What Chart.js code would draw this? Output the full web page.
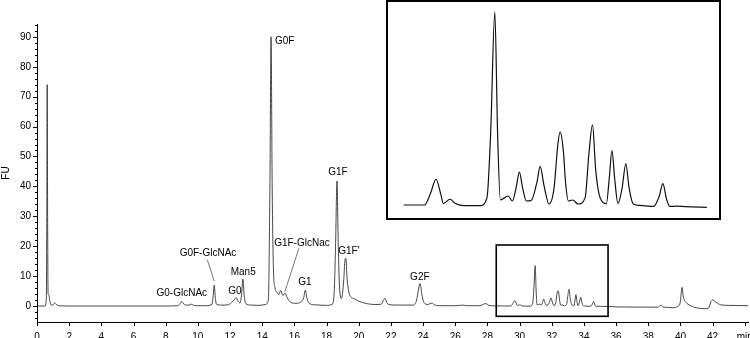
<!DOCTYPE html>
<html><head><meta charset="utf-8">
<script src="https://cdn.jsdelivr.net/npm/chart.js@4.4.0/dist/chart.umd.min.js"></script>
<style>
html,body{margin:0;padding:0;background:#fff;}
#wrap{position:relative;width:750px;height:338px;overflow:hidden;background:#fff;}
#main{position:absolute;left:0;top:0;}
#insetBox{position:absolute;left:386px;top:0;width:335px;height:220px;box-sizing:border-box;border:2px solid #000;background:#fff;}
#inset{display:block;}
</style></head><body>
<div id="wrap"><canvas id="main" width="750" height="338"></canvas>
<div id="insetBox"><canvas id="inset" width="331" height="216"></canvas></div></div>
<script>
// Retention time (min) and fluorescence (FU)
const times = [0,0.5,0.58,0.61,0.635,0.66,0.69,0.74,0.8,0.9,1.0,1.1,1.2,1.4,2.0,4.0,6.0,8.0,
 8.75,8.9,9.0,9.1,9.25,9.45,9.6,9.75,10.0,10.5,10.88,10.96,11.02,11.08,11.16,11.5,11.9,
 12.1,12.25,12.38,12.5,12.62,12.72,12.8,12.88,12.98,13.3,13.8,14.2,14.38,14.48,14.55,14.62,14.7,
 14.8,14.92,15.02,15.15,15.28,15.42,15.55,15.75,16.1,16.4,16.58,16.68,16.78,16.95,17.3,18.0,
 18.35,18.47,18.56,18.65,18.73,18.81,18.93,19.06,19.15,19.2,19.28,19.42,19.7,20.0,20.5,21.0,
 21.4,21.56,21.65,21.76,22.0,22.5,23.4,23.6,23.73,23.82,23.92,24.05,24.3,24.55,24.7,25.0,26.0,
 26.5,26.7,27.5,27.9,28.1,28.5,29.0,29.45,29.58,29.7,29.8,29.86,30.0,30.12,30.3,30.65,30.8,
 30.88,30.97,31.03,31.09,31.18,31.26,31.35,31.43,31.5,31.57,31.65,31.75,31.88,31.95,32.03,
 32.14,32.25,32.33,32.38,32.45,32.5,32.56,32.65,32.77,32.92,33.0,33.08,33.15,33.24,33.38,
 33.44,33.5,33.56,33.63,33.72,33.8,33.87,33.96,34.1,34.4,34.52,34.6,34.68,34.75,34.9,35.1,
 35.55,36.0,37.0,38.6,38.8,38.9,39.2,39.6,39.8,39.98,40.1,40.18,40.35,40.6,41.0,41.5,41.75,
 41.9,42.0,42.2,42.5,43.0,44.2];
const fu = [0,0,2.5,30,74,30,4,3.7,1.5,0.3,0.4,1.0,0.5,0.05,0,0,0,0,
 0.1,0.8,1.5,0.8,0.3,0.3,0.6,0.2,0.1,0.1,0.6,4,7,3,0.6,0.3,0.4,
 1.2,2.0,2.8,1.6,1.0,4,9,3.5,0.8,0.3,0.2,0.5,2,40,90,40,12,
 6,4.5,3.8,5.2,3.5,4.3,2.8,1.3,0.9,1.4,2.8,5.3,2.6,0.8,0.4,0.2,
 0.6,4,20,41.8,20,6,2.5,8,15.5,16,9,4,2.5,1.6,0.8,0.5,
 0.6,2.2,2.5,0.9,0.4,0.3,0.3,2,6,7.5,4,1.2,0.5,1.0,0.4,0.1,0.1,
 0.3,0.1,0.1,0.8,0.2,0.05,0,0,0.8,1.8,0.8,0.1,0.4,0.1,-0.05,-0.05,0.5,
 5,13.5,5,0.35,0.5,0.63,0.28,1.2,2.3,1.2,0.28,0.3,1.6,2.7,1.4,
 0.07,1.2,4.2,5.1,3.8,1.5,0.28,0.35,0.07,0.5,3.5,5.6,2.4,0.55,0.1,
 1.8,3.8,1.8,0.1,1.2,2.9,1.2,0.07,-0.03,-0.1,0.6,1.5,0.4,-0.1,-0.08,-0.12,
 -0.16,-0.3,-0.35,-0.4,0.3,-0.3,-0.45,-0.6,-0.2,1.0,6.2,3,1.2,0.2,-0.6,-0.9,-0.7,
 1.5,2.0,1.3,0.4,0.2,0.1];

// Axis ticks
const xTicks = [0,2,4,6,8,10,12,14,16,18,20,22,24,26,28,30,32,34,36,38,40,42,44];
const xTickLabels = ['0','2','4','6','8','10','12','14','16','18','20','22','24','26','28','30','32','34','36','38','40','42','min'];
const yMajorTicks = [0,10,20,30,40,50,60,70,80,90];
const yMinorTicks = [-4,-2,2,4,6,8,12,14,16,18,22,24,26,28,32,34,36,38,42,44,46,48,52,54,56,58,62,64,66,68,72,74,76,78,82,84,86,88,92,94];

// Peak annotations (label text and anchor in data units)
const peakNames = ['G0-GlcNAc','G0F-GlcNAc','G0','Man5','G0F','G1F-GlcNac','G1','G1F',"G1F'",'G2F'];
const peakLabelT = [9.0,10.63,12.3,12.82,15.4,16.47,16.66,18.71,19.39,23.8];
const peakLabelV = [4.3,17.5,4.8,11.4,88.6,21.1,7.9,44.6,18.4,9.7];
// Leader lines [t1,v1,t2,v2]
const leaders = [[10.59,15.4,11.02,8.3],[16.28,19.3,15.41,4.8]];
// Zoom window (box in main chart) and inset range
const zoomBox = [28.55,35.5,-3.45,20.4];
const insetRange = [29.0,35.55];

const FONT = "'Liberation Sans', Arial, Helvetica, sans-serif";
const pts = times.map((t,i)=>({x:t,y:fu[i]}));

const tickPlugin = {id:'manualTicks', afterDraw(chart){
  const {ctx, chartArea:a, scales:{x,y}} = chart;
  ctx.save(); ctx.strokeStyle='#000'; ctx.lineWidth=1; ctx.beginPath();
  yMajorTicks.forEach(v=>{const p=Math.round(y.getPixelForValue(v))+0.5; ctx.moveTo(a.left-4,p); ctx.lineTo(a.left,p);});
  yMinorTicks.forEach(v=>{const p=Math.round(y.getPixelForValue(v))+0.5; ctx.moveTo(a.left-2,p); ctx.lineTo(a.left,p);});
  xTicks.forEach(v=>{const p=Math.round(x.getPixelForValue(v))+0.5; ctx.moveTo(p,a.bottom); ctx.lineTo(p,a.bottom+4);});
  ctx.stroke(); ctx.restore();
}};

const annotPlugin = {id:'annot', afterDatasetsDraw(chart){
  const {ctx, scales:{x,y}} = chart;
  ctx.save();
  ctx.strokeStyle='#555'; ctx.lineWidth=0.8; ctx.beginPath();
  leaders.forEach(l=>{ctx.moveTo(x.getPixelForValue(l[0]),y.getPixelForValue(l[1])); ctx.lineTo(x.getPixelForValue(l[2]),y.getPixelForValue(l[3]));});
  ctx.stroke();
  ctx.fillStyle='#000'; ctx.font='10px '+FONT; ctx.textAlign='center'; ctx.textBaseline='middle';
  peakNames.forEach((n,i)=>ctx.fillText(n, x.getPixelForValue(peakLabelT[i]), y.getPixelForValue(peakLabelV[i])));
  const x1=x.getPixelForValue(zoomBox[0]), x2=x.getPixelForValue(zoomBox[1]);
  const y1=y.getPixelForValue(zoomBox[3]), y2=y.getPixelForValue(zoomBox[2]);
  ctx.strokeStyle='#000'; ctx.lineWidth=1.6; ctx.strokeRect(x1,y1,x2-x1,y2-y1);
  ctx.restore();
}};

new Chart(document.getElementById('main'), {
  type:'line',
  data:{datasets:[{data:pts, borderColor:'#333', borderWidth:0.9, pointRadius:0, cubicInterpolationMode:'monotone', fill:false}]},
  options:{responsive:false, animation:false, events:[],
    layout:{autoPadding:false, padding:{left:0,right:2,top:24,bottom:0}},
    plugins:{legend:{display:false}, tooltip:{enabled:false}},
    scales:{
      x:{type:'linear', min:0, max:44.2,
        afterBuildTicks:s=>{s.ticks=xTicks.map(v=>({value:v}));},
        ticks:{callback:(v)=>{const i=xTicks.indexOf(v); return i>=0?xTickLabels[i]:'';}, font:{family:FONT,size:10}, color:'#000', padding:5, maxRotation:0, autoSkip:false},
        grid:{display:true, drawOnChartArea:false, color:'rgba(0,0,0,0)', tickLength:4},
        border:{display:true, color:'#000', width:1},
        afterFit:s=>{s.height=16; s.paddingLeft=0; s.paddingRight=0;}},
      y:{type:'linear', min:-5.35, max:94.3,
        afterBuildTicks:s=>{s.ticks=yMajorTicks.map(v=>({value:v}));},
        ticks:{callback:(v)=>String(v), font:{family:FONT,size:10}, color:'#000', padding:2, autoSkip:false},
        grid:{display:true, drawOnChartArea:false, color:'rgba(0,0,0,0)', tickLength:4},
        border:{display:true, color:'#000', width:1},
        title:{display:true, text:'FU', font:{family:FONT,size:10}, color:'#000', padding:0},
        afterFit:s=>{s.width=37; s.paddingTop=0; s.paddingBottom=0;}}
    }
  },
  plugins:[tickPlugin, annotPlugin]
});

const insetPts = pts.filter(p=>p.x>=insetRange[0] && p.x<=insetRange[1]);
new Chart(document.getElementById('inset'), {
  type:'line',
  data:{datasets:[{data:insetPts, borderColor:'#111', borderWidth:1.2, pointRadius:0, cubicInterpolationMode:'monotone', fill:false}]},
  options:{responsive:false, animation:false, events:[],
    layout:{padding:0},
    plugins:{legend:{display:false}, tooltip:{enabled:false}},
    scales:{x:{type:'linear', display:false, min:28.663, max:35.812}, y:{type:'linear', display:false, min:-0.91, max:14.2}}
  }
});
</script>
</body></html>
